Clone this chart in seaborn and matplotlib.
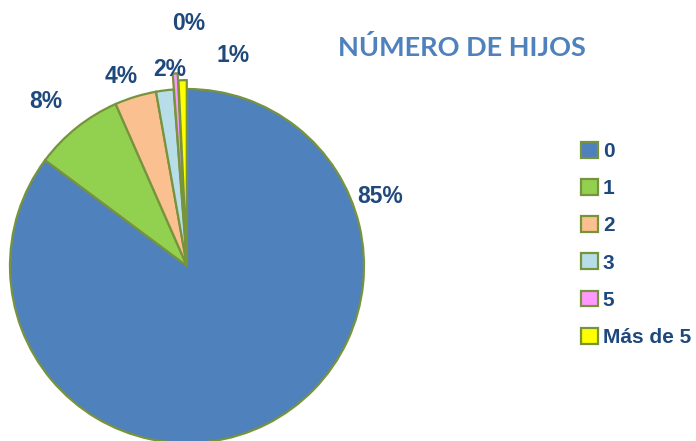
import matplotlib
matplotlib.use('Agg')
import matplotlib.pyplot as plt
import seaborn as sns

# number of children, share of respondents (%)
categories = ['0', '1', '2', '3', '5', 'Más de 5']
values = [85.2, 8.2, 3.8, 1.6, 0.45, 0.75]
colors = ['#4F81BD', '#92D050', '#FAC090', '#B7DEE8', '#FF99FF', '#FFFF00']
explode = [0, 0, 0, 0, 0.09, 0.05]

# where Excel put the percentage labels (pie radius = 1)
label_pos = [(1.09, 0.39), (-0.80, 0.93), (-0.37, 1.07),
             (-0.10, 1.11), (0.01, 1.37), (0.26, 1.19)]

sns.set_theme(style='white')
plt.rcParams['font.family'] = ['Liberation Sans', 'DejaVu Sans']

fig = plt.figure(figsize=(6.96, 4.41), dpi=100)
R = 177
cx, cy = 187, 266
half = 1.25 * R
ax = fig.add_axes([(cx - half) / 696, (441 - cy - half) / 441,
                   2 * half / 696, 2 * half / 441])

wedges, texts, autotexts = ax.pie(
    values, colors=colors, explode=explode, startangle=90,
    counterclock=False, autopct='%.0f%%',
    wedgeprops=dict(edgecolor='#77933C', linewidth=1.6),
    textprops=dict(color='#1F497D', fontsize=16.5, fontweight='bold'))
for t, (x, y) in zip(autotexts, label_pos):
    t.set_position((x, y))
    t.set_ha('center')
    t.set_va('center')
ax.set_xlim(-1.25, 1.25)
ax.set_ylim(-1.25, 1.25)
ax.set_aspect('auto')
ax.axis('off')

fig.text(462 / 696, 1 - 47 / 441, 'NÚMERO DE HIJOS', ha='center', va='center',
         color='#4F81BD', fontsize=19.5, fontweight='bold', family='Lato')

leg = fig.legend(wedges, categories, loc='upper left',
                 bbox_to_anchor=(581 / 696, 1 - 142 / 441),
                 frameon=False, handlelength=0.8, handleheight=0.8,
                 handletextpad=0.25, labelspacing=0.86, borderaxespad=0,
                 borderpad=0,
                 prop=dict(size=15, weight='bold'))
for t in leg.get_texts():
    t.set_color('#1F497D')

fig.savefig('out.png', dpi=100)
